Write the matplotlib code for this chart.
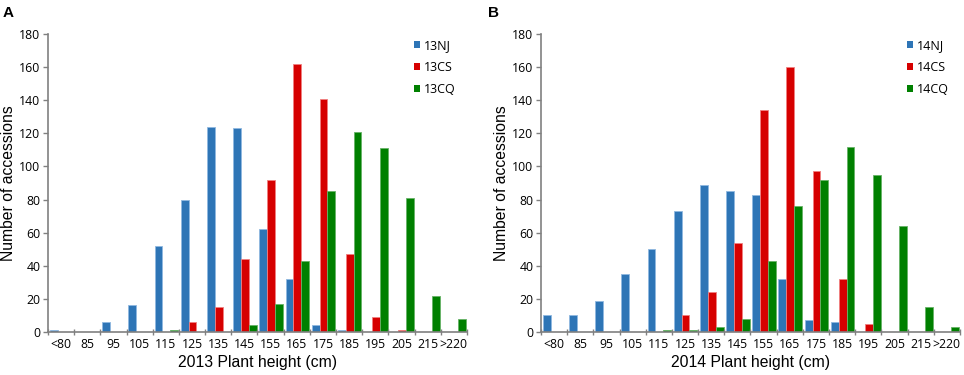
import matplotlib
matplotlib.use("Agg")
import matplotlib.pyplot as plt
import numpy as np
from matplotlib.ticker import FixedLocator, NullFormatter, FixedFormatter

categories = ["<80", "85", "95", "105", "115", "125", "135", "145", "155",
              "165", "175", "185", "195", "205", "215", ">220"]

nj13 = [1, 0, 6, 16, 52, 80, 124, 123, 62, 32, 4, 1, 0, 0, 0, 0]
cs13 = [0, 0, 0, 0, 0, 6, 15, 44, 92, 162, 141, 47, 9, 1, 0, 0]
cq13 = [0, 0, 0, 0, 1, 0, 0, 4, 17, 43, 85, 121, 111, 81, 22, 8]

nj14 = [10, 10, 19, 35, 50, 73, 89, 85, 83, 32, 7, 6, 0, 0, 0, 0]
cs14 = [0, 0, 0, 0, 0, 10, 24, 54, 134, 160, 97, 32, 5, 0, 0, 0]
cq14 = [0, 0, 0, 0, 1, 1, 3, 8, 43, 76, 92, 112, 95, 64, 15, 3]

colors = ["#2E75B6", "#D60000", "#008000"]
edges = ["#8FB8E0", "#F08080", "#66B266"]

fig = plt.figure(figsize=(9.64, 3.75), dpi=100)
ax1 = fig.add_axes([0.0498, 0.1147, 0.4346, 0.7947])
ax2 = fig.add_axes([0.5612, 0.1147, 0.4346, 0.7947])

tickfont = "Open Sans"
labelfont = "Liberation Sans"

def draw(ax, series, names, xlabel, letter, lx):
    n = len(categories)
    x = np.arange(n) + 0.5
    w = 0.30
    offs = [-w, 0, w]
    for s, nm, c, e, o in zip(series, names, colors, edges, offs):
        ax.bar(x + o + 0.02, s, width=w, color=c, edgecolor=e, linewidth=0.6,
               label=nm)
    ax.set_xlim(0, n)
    ax.set_ylim(0, 180)
    ax.set_yticks(np.arange(0, 181, 20))
    ax.xaxis.set_major_locator(FixedLocator(np.arange(0, n + 1)))
    ax.xaxis.set_major_formatter(NullFormatter())
    ax.xaxis.set_minor_locator(FixedLocator(x))
    ax.xaxis.set_minor_formatter(FixedFormatter(categories))
    ax.tick_params(axis="x", which="minor", length=0, pad=4, labelsize=8.8)
    ax.tick_params(axis="x", which="major", length=4, direction="inout",
                   color="#808080", width=1)
    ax.tick_params(axis="y", length=3.5, color="#808080", width=1,
                   labelsize=8.8, pad=2)
    for lbl in ax.get_xticklabels(minor=True) + ax.get_yticklabels():
        lbl.set_fontfamily(tickfont)
    for sp in ["top", "right"]:
        ax.spines[sp].set_visible(False)
    for sp in ["left", "bottom"]:
        ax.spines[sp].set_color("#808080")
        ax.spines[sp].set_linewidth(1.2)
    ax.set_xlabel(xlabel, fontsize=11.3, fontfamily=labelfont, labelpad=3)
    ax.set_ylabel("Number of accessions", fontsize=11.3, fontfamily=labelfont,
                  labelpad=2)
    leg = ax.legend(loc="upper right", frameon=False, handlelength=0.5,
                    handleheight=0.5, handletextpad=0.3, labelspacing=0.7,
                    prop={"family": tickfont, "size": 9},
                    bbox_to_anchor=(1.0, 1.02))
    for h in leg.legend_handles:
        h.set_linewidth(0)
    fig.text(lx, 0.985, letter, fontsize=11, fontweight="bold",
             fontfamily="Liberation Sans", va="top", ha="left")

draw(ax1, [nj13, cs13, cq13], ["13NJ", "13CS", "13CQ"],
     "2013 Plant height (cm)", "A", 0.003)
draw(ax2, [nj14, cs14, cq14], ["14NJ", "14CS", "14CQ"],
     "2014 Plant height (cm)", "B", 0.506)

fig.savefig("out.png", dpi=100)
